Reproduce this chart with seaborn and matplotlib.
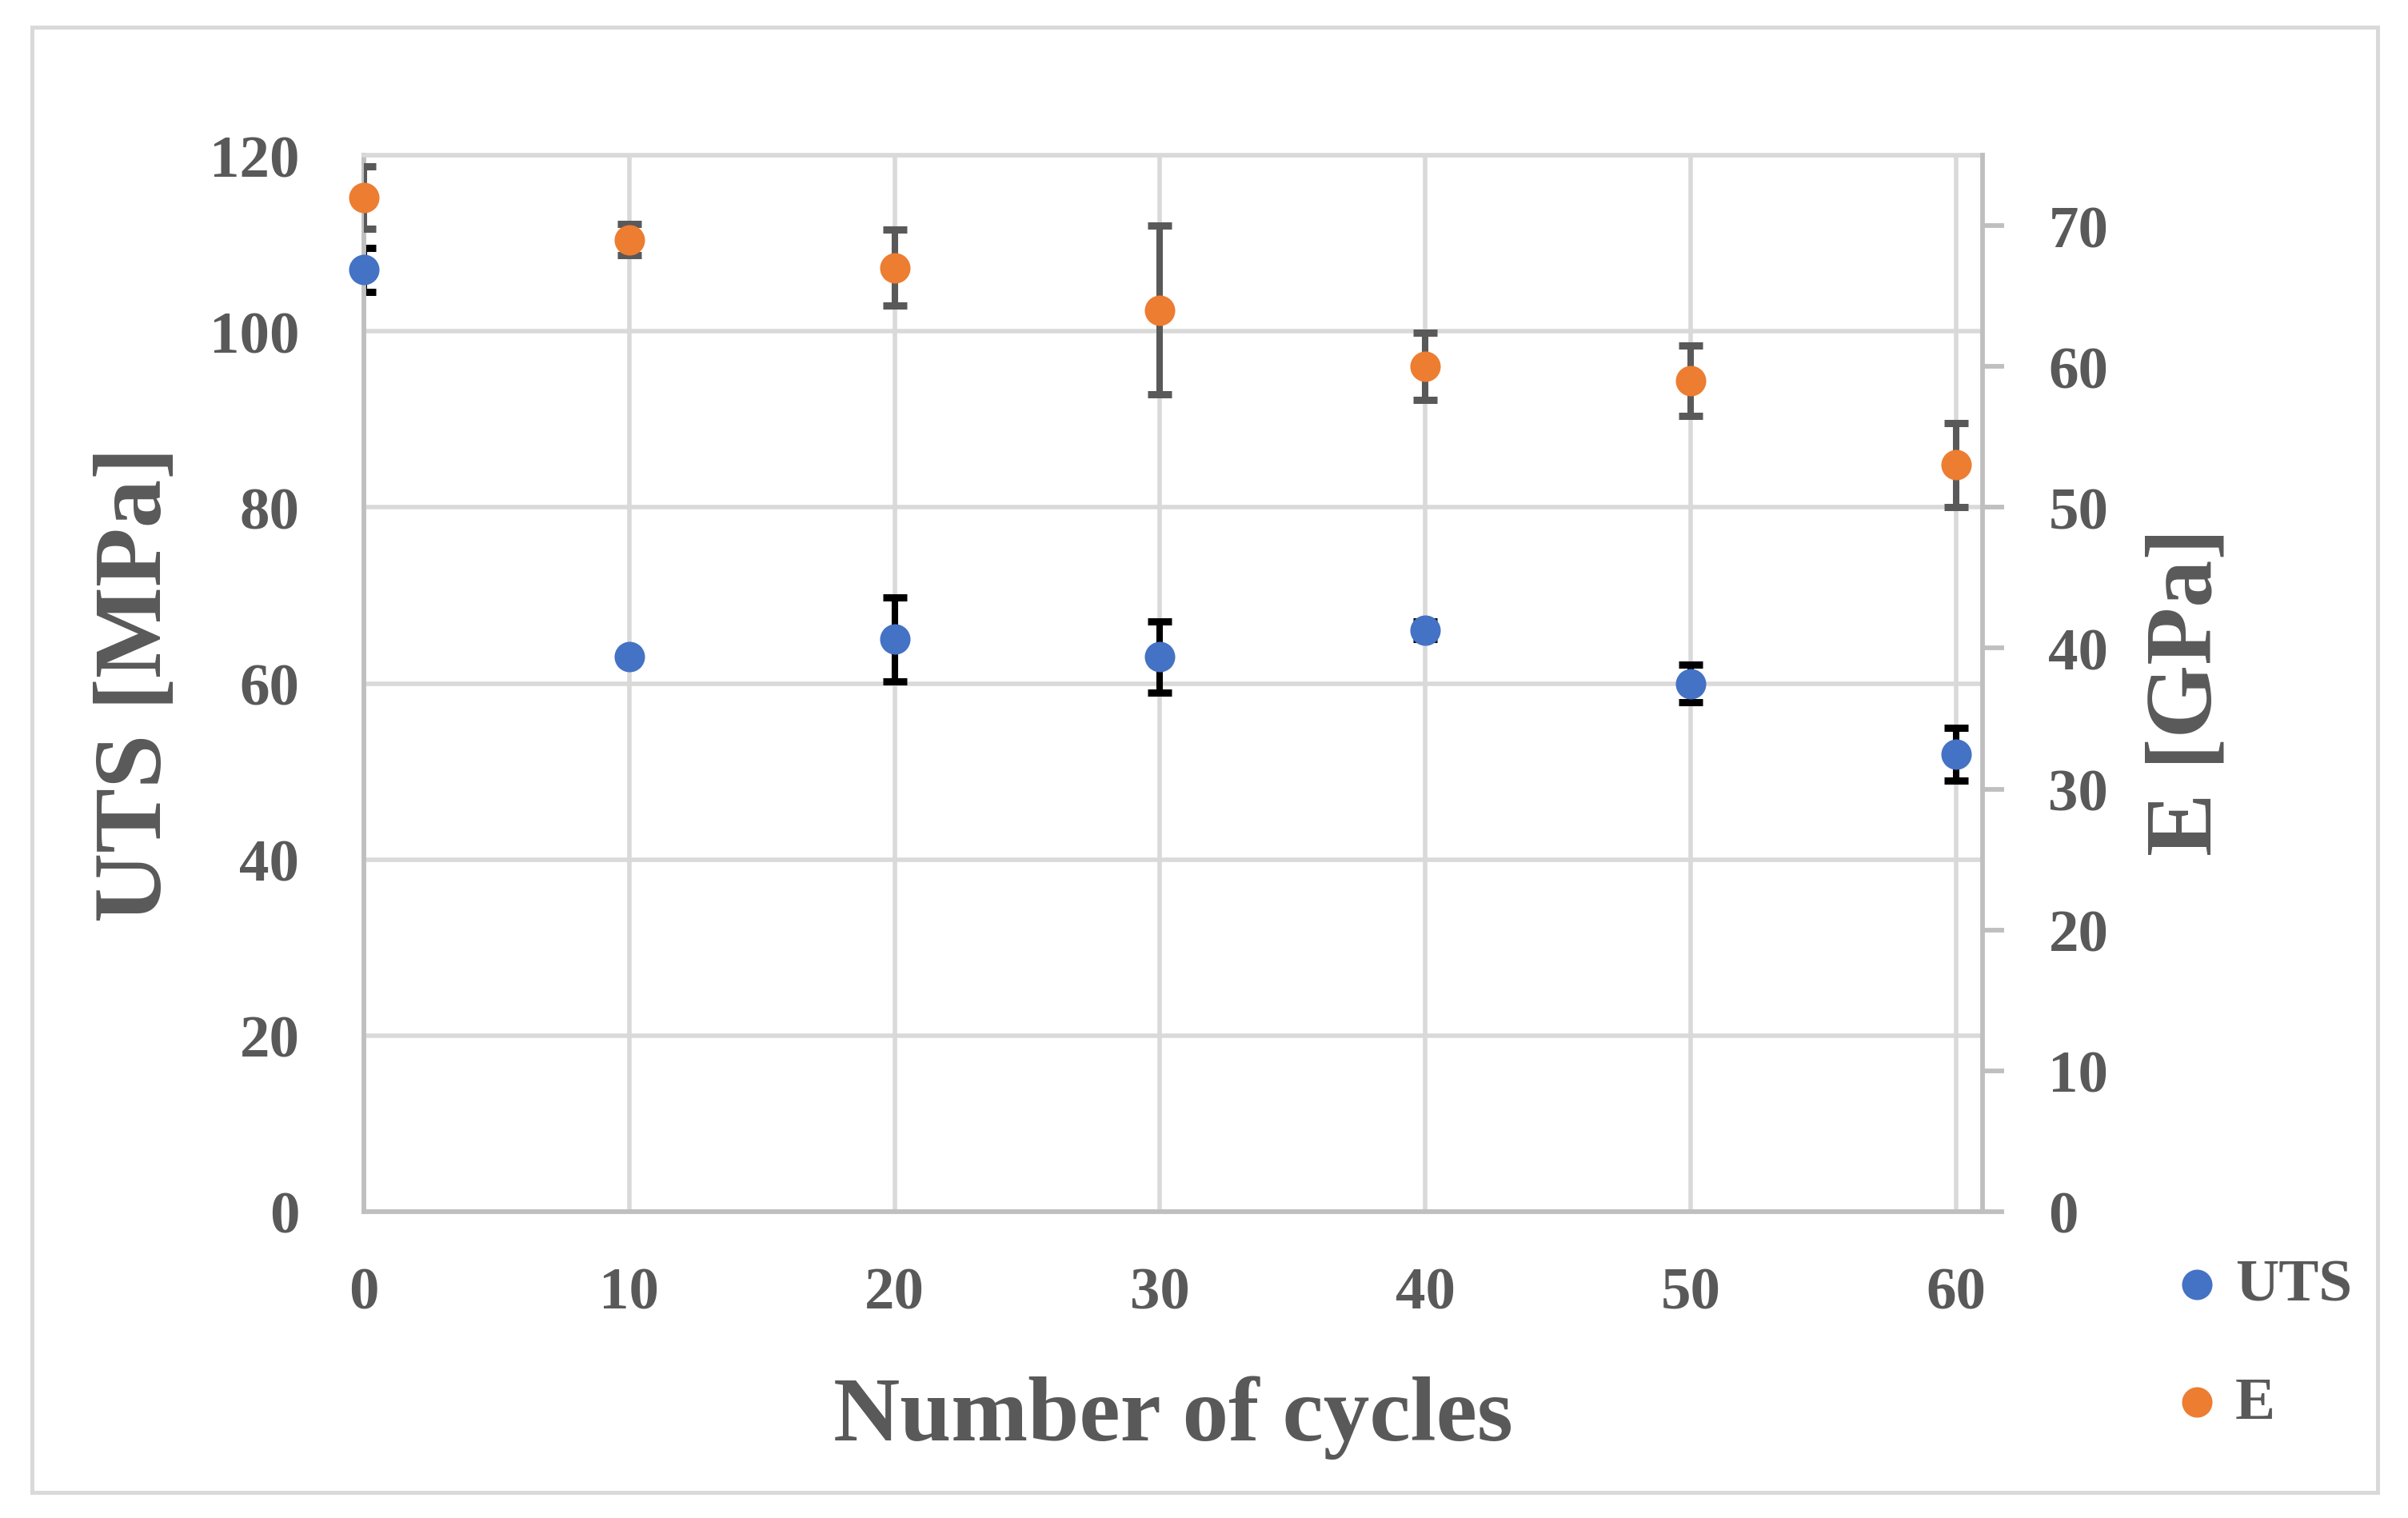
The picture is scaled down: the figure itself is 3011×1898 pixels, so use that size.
import matplotlib
matplotlib.use("Agg")
import matplotlib.pyplot as plt
from matplotlib.patches import Rectangle
from matplotlib.ticker import MultipleLocator
import seaborn as sns
import pandas as pd

# ---- data ----
cycles = [0, 10, 20, 30, 40, 50, 60]
uts = [107, 63, 65, 63, 66, 60, 52]
uts_err = [2.5, 0.5, 4.8, 4.0, 1.0, 2.1, 3.0]
e_mod = [72, 69, 67, 64, 60, 59, 53]
e_err = [2.2, 1.1, 2.7, 6.0, 2.4, 2.5, 3.0]
series_names = ["UTS", "E"]
x_label = "Number of cycles"
y_left_label = "UTS [MPa]"
y_right_label = "E [GPa]"

df = pd.DataFrame({"cycles": cycles, "uts": uts, "uts_err": uts_err,
                   "E": e_mod, "E_err": e_err})

sns.set_theme(style="white")
plt.rcParams["font.family"] = ["Liberation Serif", "DejaVu Serif"]
plt.rcParams["font.weight"] = "bold"

TXT = "#595959"
GRID = "#d9d9d9"
AXC = "#bfbfbf"
BLUE = "#4472C4"
ORANGE = "#ED7D31"

W, H = 3011, 1899
fig = plt.figure(figsize=(W / 100, H / 100), dpi=100)
fig.patch.set_facecolor("white")

# outer chart border
fig.patches.append(Rectangle((40 / W, 32 / H), (2973 - 40) / W, (1867 - 35) / H,
                             transform=fig.transFigure, fill=False,
                             ec=GRID, lw=3.6, zorder=0))

ax = fig.add_axes([455 / W, (H - 1516) / H, 2024 / W, 1321 / H])
ax.set_facecolor("white")
ax2 = ax.twinx()

# error bars (behind markers)
ax.errorbar(df["cycles"], df["uts"], yerr=df["uts_err"], fmt="none",
            ecolor="black", elinewidth=5.8, capsize=10.8, capthick=6.5, zorder=2)
ax2.errorbar(df["cycles"], df["E"], yerr=df["E_err"], fmt="none",
             ecolor=TXT, elinewidth=5.8, capsize=10.8, capthick=6.5, zorder=2)

# markers
sns.scatterplot(data=df, x="cycles", y="uts", ax=ax, color=BLUE, s=750,
                linewidth=0, label=series_names[0], zorder=3, clip_on=False)
sns.scatterplot(data=df, x="cycles", y="E", ax=ax2, color=ORANGE, s=750,
                linewidth=0, label=series_names[1], zorder=3, clip_on=False)

ax.set_xlim(0, 61)
ax.set_ylim(0, 120)
ax2.set_ylim(0, 75)

ax.xaxis.set_major_locator(MultipleLocator(10))
ax.xaxis.set_minor_locator(MultipleLocator(5))
ax.yaxis.set_major_locator(MultipleLocator(20))
ax2.yaxis.set_major_locator(MultipleLocator(10))
ax.set_xticks(cycles)

ax.grid(True, which="major", color=GRID, lw=4.0)
ax.set_axisbelow(True)
ax2.grid(False)

for s in ["left", "bottom"]:
    ax.spines[s].set_color(AXC)
    ax.spines[s].set_linewidth(4.2)
ax.spines["top"].set_color(GRID)
ax.spines["top"].set_linewidth(4.0)
ax.spines["right"].set_visible(False)
for s in ["left", "bottom", "top"]:
    ax2.spines[s].set_visible(False)
ax2.spines["right"].set_color(AXC)
ax2.spines["right"].set_linewidth(4.2)

ax.tick_params(axis="x", which="major", direction="inout", length=34, width=4.2,
               color=AXC, labelsize=54, labelcolor=TXT, pad=32)
ax.tick_params(axis="x", which="minor", direction="in", length=13.7, width=4.2,
               color=AXC)
ax.tick_params(axis="y", which="both", length=0, labelsize=54, labelcolor=TXT, pad=58)
ax2.tick_params(axis="y", which="major", direction="out", length=19.4, width=4.2,
                color=AXC, labelsize=54, labelcolor=TXT, pad=40)
for lab in ax.get_xticklabels() + ax.get_yticklabels() + ax2.get_yticklabels():
    lab.set_fontweight("bold")

ax.set_xlabel(x_label, fontsize=83, fontweight="bold", color=TXT, va="center")
ax.xaxis.set_label_coords(0.5, -0.194)
ax.set_ylabel(y_left_label, fontsize=87, fontweight="bold", color=TXT, va="center")
ax.yaxis.set_label_coords((172 - 455) / 2024, 0.5)
ax2.set_ylabel(y_right_label, fontsize=85, fontweight="bold", color=TXT,
               va="center", rotation=90)
ax2.yaxis.set_label_coords((2736 - 455) / 2024, 0.493)

# legend
h1, l1 = ax.get_legend_handles_labels()
h2, l2 = ax2.get_legend_handles_labels()
if ax.get_legend():
    ax.get_legend().remove()
if ax2.get_legend():
    ax2.get_legend().remove()
leg = fig.legend(h1 + h2, l1 + l2, loc="center left",
                 bbox_to_anchor=(2709.5 / W, (H - 1682) / H),
                 frameon=False, fontsize=54, handlelength=1.0,
                 handletextpad=0.14, labelspacing=1.05, borderpad=0,
                 borderaxespad=0)
for t in leg.get_texts():
    t.set_color(TXT)
    t.set_fontweight("bold")

fig.savefig("out.png", dpi=100, facecolor="white")
